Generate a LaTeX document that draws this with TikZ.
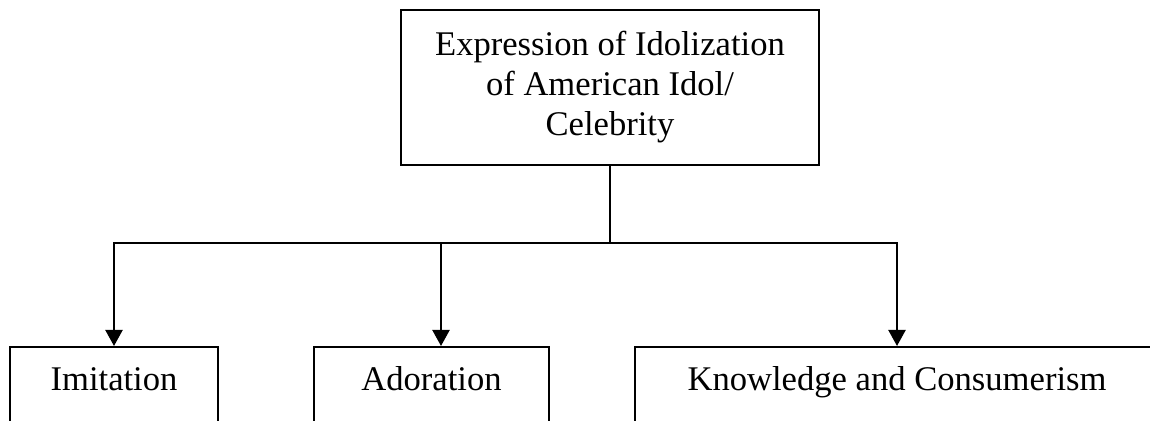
\documentclass[tikz,border=0pt]{standalone}
\usepackage{fontspec}
\setmainfont{Liberation Serif}
\usepackage{tikz}
\usetikzlibrary{
  calc
  , arrows.meta
}

\begin{document}
\begin{tikzpicture}[x=0.5pt, y=-0.5pt]
      \tikzstyle{box template}=[draw=black, line width=0.8pt, align=center,
          font=\fontsize{17.3pt}{20pt}\selectfont];
      \tikzstyle{leaf template}=[box template, anchor=north, text height=12pt,
          text depth=30pt, inner ysep=10pt];
      \tikzstyle{branch}=[line width=1.1pt, -{Triangle[length=8pt, width=8.5pt]}];

      \clip (0, 0) rectangle (1150, 421);

      \node [box template, minimum width=209pt, minimum height=77.5pt]
        (idol) at (610, 87.5) {Expression of Idolization\\ of American Idol/\\ Celebrity};

      % ------
      \node [leaf template, minimum width=104pt] (imitation) at (114, 346) {Imitation};
      \node [leaf template, minimum width=117.5pt] (adoration) at (431.5, 346) {Adoration};
      \node [leaf template, minimum width=262pt] (knowledge) at (897, 346) {Knowledge and Consumerism};

      \coordinate (fork) at (610, 243);
      \draw [line width=0.8pt] (idol.south) -- (fork);
      \draw [branch] (fork) -| (imitation.north);
      \draw [branch] (fork) -| ([xshift=4.75pt] adoration.north);
      \draw [branch] (fork) -| (knowledge.north);

    \end{tikzpicture}
\end{document}
